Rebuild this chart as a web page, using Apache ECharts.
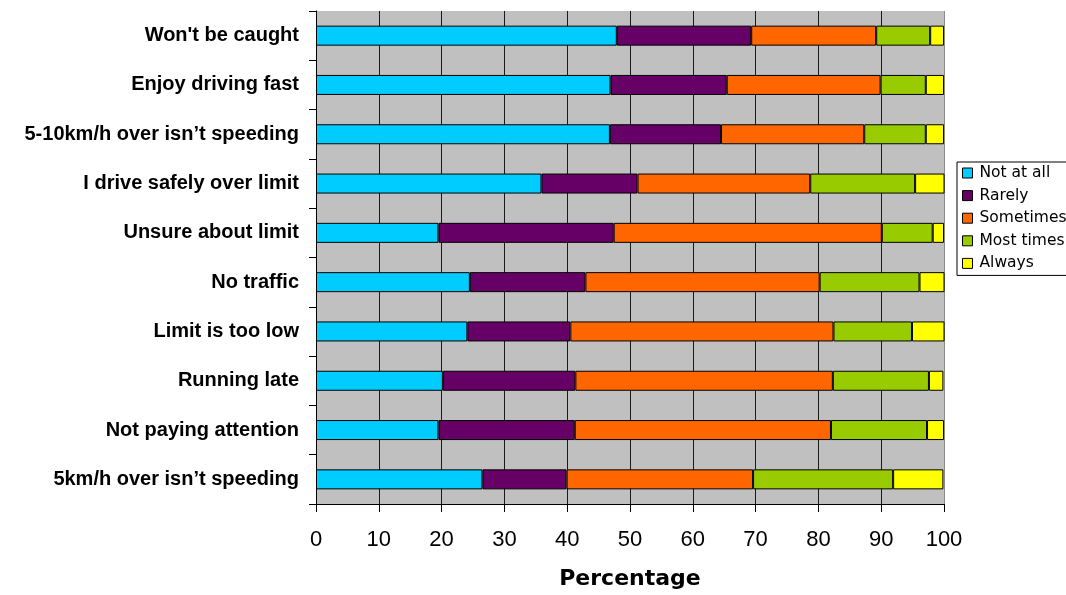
<!DOCTYPE html>
<html>
<head>
<meta charset="utf-8">
<script src="https://cdn.jsdelivr.net/npm/echarts@6/dist/echarts.min.js"></script>
<style>
html,body{margin:0;padding:0;background:#fff;}
#chart{width:1066px;height:595px;}
</style>
</head>
<body>
<div id="chart"></div>
<script>
const categories = ["Won't be caught", "Enjoy driving fast", "5-10km/h over isn\u2019t speeding", "I drive safely over limit", "Unsure about limit", "No traffic", "Limit is too low", "Running late", "Not paying attention", "5km/h over isn\u2019t speeding"];
const seriesNames = ["Not at all", "Rarely", "Sometimes", "Most times", "Always"];
const notAtAll  = [47.9, 46.9, 46.8, 35.9, 19.5, 24.5, 24.1, 20.2, 19.5, 26.5];
const rarely    = [21.4, 18.5, 17.7, 15.3, 27.9, 18.4, 16.4, 21.1, 21.7, 13.4];
const sometimes = [19.9, 24.5, 22.8, 27.5, 42.7, 37.3, 41.9, 41.0, 40.8, 29.7];
const mostTimes = [8.6, 7.2, 9.8, 16.7, 8.1, 15.9, 12.5, 15.3, 15.3, 22.3];
const always    = [2.2, 2.9, 2.9, 4.7, 1.8, 4.0, 5.2, 2.3, 2.7, 8.0];
const xTicks = [0, 10, 20, 30, 40, 50, 60, 70, 80, 90, 100];

const colors = ['#00CCFF', '#660066', '#FF6600', '#99CC00', '#FFFF00'];
const values = [notAtAll, rarely, sometimes, mostTimes, always];
const wideFont = 'DejaVu Sans, Verdana, sans-serif';
const armFont = 'Liberation Sans, Arial, sans-serif';
const gridColors = xTicks.map((t, i) => i === xTicks.length - 1 ? '#8a8a8a' : '#1a1a1a');

const chart = echarts.init(document.getElementById('chart'));
chart.setOption({
  backgroundColor: '#ffffff',
  animation: false,
  color: colors,
  grid: {
    left: 316, right: 122, top: 11, bottom: 86,
    show: true, backgroundColor: '#C0C0C0', borderWidth: 0,
    containLabel: false
  },
  legend: {
    orient: 'vertical',
    left: 957, top: 162,
    padding: [2, 20, 3, 5],
    itemWidth: 10, itemHeight: 10, itemGap: 4.6,
    icon: 'rect',
    borderColor: '#000', borderWidth: 1,
    backgroundColor: '#fff',
    itemStyle: { borderColor: '#000', borderWidth: 1 },
    textStyle: { fontFamily: wideFont, fontSize: 15.5, color: '#000', lineHeight: 18, padding: [0, 0, 0, 2] },
    data: seriesNames
  },
  xAxis: {
    type: 'value', min: xTicks[0], max: xTicks[xTicks.length - 1], interval: 10,
    axisLine: { show: true, lineStyle: { color: '#000', width: 1 } },
    axisTick: { show: true, length: 8, lineStyle: { color: '#000' } },
    axisLabel: { fontFamily: armFont, fontSize: 22, color: '#000', margin: 25 },
    splitLine: { show: true, lineStyle: { color: gridColors, width: 1 } },
    name: 'Percentage', nameLocation: 'middle', nameGap: 64,
    nameTextStyle: { fontFamily: wideFont, fontSize: 22, fontWeight: 'bold', color: '#000' }
  },
  yAxis: {
    type: 'category', data: categories, inverse: true,
    axisLine: { show: true, lineStyle: { color: '#000', width: 1 } },
    axisTick: { show: true, length: 7, lineStyle: { color: '#000' } },
    axisLabel: { fontFamily: armFont, fontSize: 20, fontWeight: 'bold', color: '#000', margin: 17 },
    splitLine: { show: false }
  },
  series: seriesNames.map((n, i) => ({
    name: n, type: 'bar', stack: 'total', barWidth: 20,
    itemStyle: { color: colors[i], borderColor: '#000', borderWidth: 1 },
    data: values[i]
  }))
});
</script>
</body>
</html>
